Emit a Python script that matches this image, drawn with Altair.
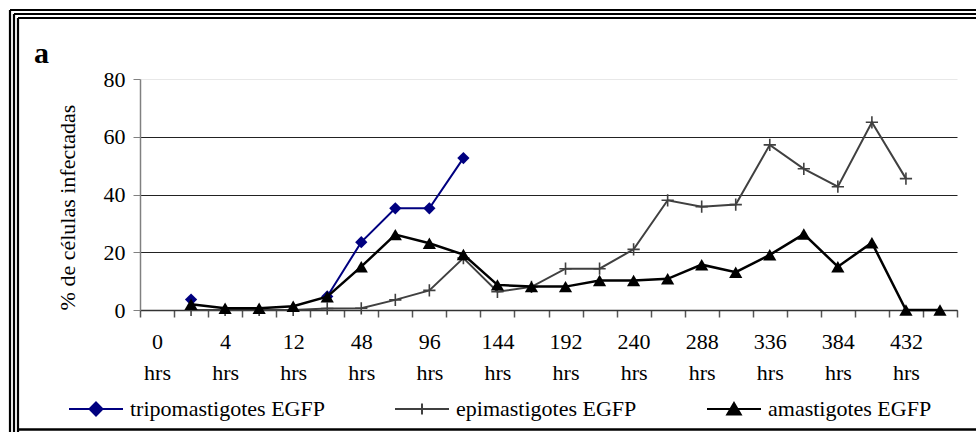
import altair as alt
import pandas as pd

FONT = "Liberation Serif"

# categories (every other one is labelled on the axis)
categories = ["0 hrs", "2 hrs", "4 hrs", "8 hrs", "12 hrs", "24 hrs", "48 hrs", "72 hrs",
              "96 hrs", "120 hrs", "144 hrs", "168 hrs", "192 hrs", "216 hrs", "240 hrs",
              "264 hrs", "288 hrs", "312 hrs", "336 hrs", "360 hrs", "384 hrs", "408 hrs",
              "432 hrs", "456 hrs"]
labelled = ["0 hrs", "4 hrs", "12 hrs", "48 hrs", "96 hrs", "144 hrs", "192 hrs",
            "240 hrs", "288 hrs", "336 hrs", "384 hrs", "432 hrs"]

series_names = ["tripomastigotes EGFP", "epimastigotes EGFP", "amastigotes EGFP"]

tripo = [None, 3.6, None, None, None, 4.7, 23.5, 35.2, 35.2, 52.6, None, None,
         None, None, None, None, None, None, None, None, None, None, None, None]
epi = [None, 0.0, 0.0, 0.0, 0.0, 0.5, 0.6, 3.5, 6.8, 18.0, 6.3, 8.0,
       14.3, 14.3, 21.0, 38.0, 35.8, 36.5, 57.2, 48.9, 42.7, 65.0, 45.5, None]
ama = [None, 2.0, 0.6, 0.6, 1.3, 4.6, 15.0, 26.1, 23.1, 19.2, 8.7, 8.1,
       8.1, 10.2, 10.2, 10.8, 15.7, 13.1, 19.1, 26.3, 15.0, 23.3, 0.0, 0.0]

rows = []
for name, vals in zip(series_names, [tripo, epi, ama]):
    for c, v in zip(categories, vals):
        rows.append({"time": c, "series": name, "value": v})
df = pd.DataFrame(rows)

colors = ["#000080", "#404040", "#000000"]
legend_shapes = [
    "M-1,0H1M0,-0.24L0.24,0L0,0.24L-0.24,0Z",
    "M-1,0H1M0,-0.2V0.2",
    "M-1,0H1M0,-0.22L0.25,0.2L-0.25,0.2Z",
]
plus_path = "M-1,0H1M0,-1V1"

label_list = "[" + ",".join("'%s'" % l for l in labelled) + "]"

x_enc = alt.X(
    "time:N",
    sort=categories,
    scale=alt.Scale(type="band", domain=categories, paddingInner=0, paddingOuter=0),
    axis=alt.Axis(
        title=None,
        labelExpr="indexof(%s, datum.value) >= 0 ? split(datum.value, ' ') : ''" % label_list,
        labelAngle=0,
        labelOverlap=False,
        labelBaseline="top",
        labelLineHeight=31,
        labelPadding=14,
        labelFont=FONT,
        labelFontSize=22,
        labelColor="black",
        tickBand="extent",
        tickSize=7,
        tickColor="#555555",
        tickWidth=1.5,
        domainColor="#333333",
        domainWidth=1.5,
        grid=False,
    ),
)

y_enc = alt.Y(
    "value:Q",
    scale=alt.Scale(domain=[0, 80], nice=False, zero=True),
    axis=alt.Axis(
        values=[0, 20, 40, 60, 80],
        title="% de células infectadas",
        titleFont=FONT,
        titleFontSize=22,
        titleFontWeight="normal",
        titleColor="black",
        titleAngle=-90,
        titleX=-73,
        titleY=128,
        titleAlign="center",
        titleBaseline="middle",
        labelFont=FONT,
        labelFontSize=22,
        labelColor="black",
        labelPadding=8,
        tickSize=7,
        tickColor="#808080",
        domainColor="#808080",
        domainWidth=1.5,
        grid=True,
        gridColor=alt.condition("datum.value == 80", alt.value("#e8e8e8"), alt.value("#222222")),
        gridWidth=1.2,
    ),
)

base = alt.Chart(df)

layers = []
marks = [
    ("tripomastigotes EGFP", "#000080", 2, dict(shape="diamond", size=150, filled=True)),
    ("epimastigotes EGFP", "#404040", 2, dict(shape=plus_path, size=150, filled=False, strokeWidth=1.6)),
    ("amastigotes EGFP", "#000000", 2.5, dict(shape="triangle-up", size=175, filled=True)),
]
for name, col, w, pt in marks:
    sel = base.transform_filter(alt.datum.series == name)
    layers.append(sel.mark_line(color=col, strokeWidth=w, invalid="break-paths-show-domains")
                  .encode(x=x_enc, y=y_enc))
    layers.append(sel.transform_filter("isValid(datum.value)")
                  .mark_point(color=col, opacity=1, **pt)
                  .encode(x=x_enc, y=y_enc))

# legend carrier layer (no rows drawn)
legend_layer = base.transform_filter("false").mark_point(filled=True, opacity=1).encode(
    x=x_enc,
    y=y_enc,
    fill=alt.Fill("series:N", scale=alt.Scale(domain=series_names, range=colors),
                  legend=alt.Legend(
                      title=None, orient="none", legendX=-72, legendY=302,
                      direction="horizontal", columns=3, columnPadding=66,
                      symbolSize=2916, symbolStrokeWidth=2, symbolOpacity=1,
                      labelFont=FONT, labelFontSize=22, labelColor="black",
                      labelLimit=500, labelOffset=6)),
    stroke=alt.Stroke("series:N", scale=alt.Scale(domain=series_names, range=colors)),
    shape=alt.Shape("series:N", scale=alt.Scale(domain=series_names, range=legend_shapes)),
)
layers.append(legend_layer)

# panel letter
letter = alt.Chart(alt.Data(values=[{}])).mark_text(
    text="a", font=FONT, fontSize=30, fontWeight="bold", align="left", baseline="alphabetic",
    color="black"
).encode(x=alt.value(-106), y=alt.value(-16))
layers.append(letter)

# frame: three nested lines on top and left, inner line at the bottom (open to the right)
one = alt.Data(values=[{}])
for off in [0, 4, 8]:
    top = alt.Chart(one).mark_rule(stroke="black", strokeWidth=2.2).encode(
        x=alt.value(-130 + off), x2=alt.value(836),
        y=alt.value(-69 + off), y2=alt.value(-69 + off))
    left = alt.Chart(one).mark_rule(stroke="black", strokeWidth=2.2).encode(
        x=alt.value(-130 + off), x2=alt.value(-130 + off),
        y=alt.value(-69 + off), y2=alt.value(353))
    layers += [top, left]
bottom = alt.Chart(one).mark_rule(stroke="black", strokeWidth=2.6).encode(
    x=alt.value(-122), x2=alt.value(836), y=alt.value(350.5), y2=alt.value(350.5))
layers.append(bottom)

chart = alt.layer(*layers).properties(
    width=817,
    height=231,
    padding={"left": 140, "top": 79, "right": 19, "bottom": 122},
    autosize=alt.AutoSizeParams(type="none"),
    background="white",
).configure_view(stroke=None)

chart.save("out.html", embed_options={"renderer": "svg", "actions": False})
